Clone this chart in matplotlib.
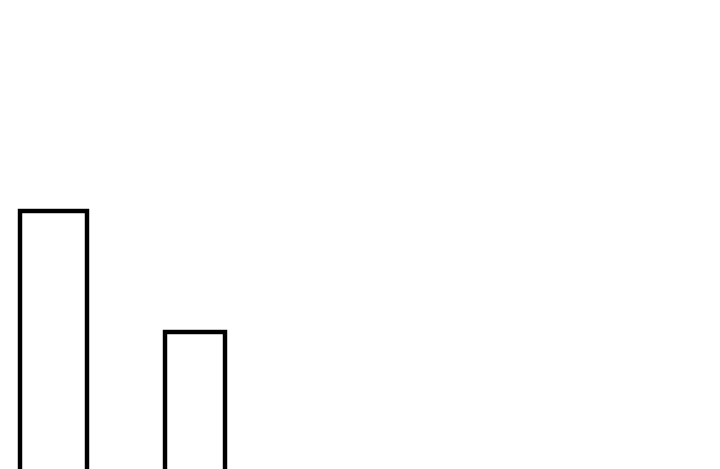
import matplotlib
matplotlib.use('Agg')
from matplotlib import pyplot as plt

# two outlined bars, bottoms run off the lower edge
categories = ['a', 'b']
values = [298, 177]
widths = [0.476, 0.425]

fig = plt.figure(figsize=(7.2, 4.69), dpi=100)
ax = fig.add_axes([0, 0, 1, 1])

ax.bar(range(len(categories)), values, width=widths,
       facecolor='none', edgecolor='black', linewidth=3.2)

ax.set_xlim(-0.3757, 4.704)
ax.set_ylim(40, 509)
ax.axis('off')

fig.savefig('out.png', dpi=100, facecolor='white')
